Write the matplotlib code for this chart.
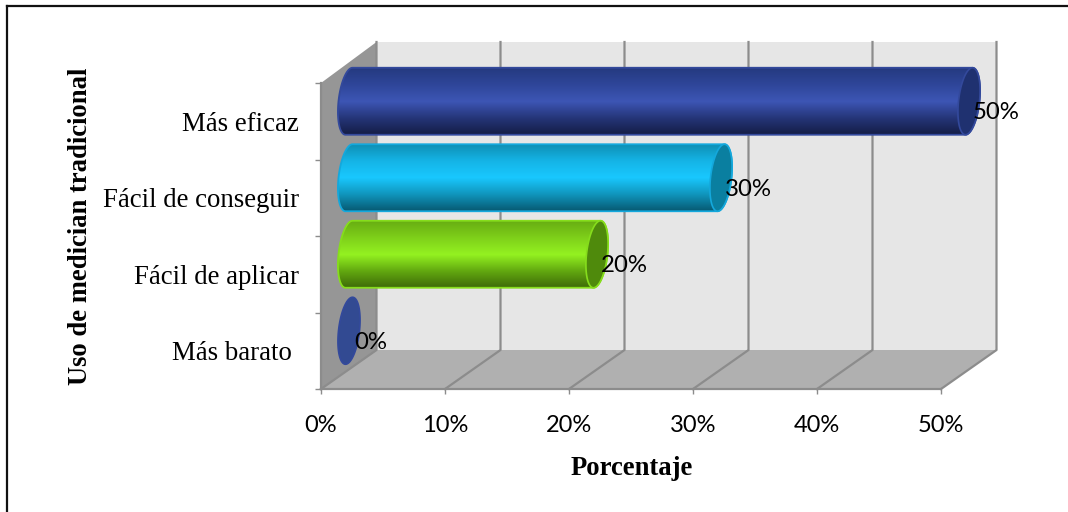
import numpy as np
import matplotlib
matplotlib.use("Agg")
import matplotlib.pyplot as plt
from matplotlib.colors import LinearSegmentedColormap
from matplotlib.patches import Polygon, PathPatch
from matplotlib.path import Path
from matplotlib.lines import Line2D

categories = ["Más barato ", "Fácil de aplicar", "Fácil de conseguir", "Más eficaz"]
values = [0, 20, 30, 50]
x_ticks = [0, 10, 20, 30, 40, 50]
x_tick_labels = ["0%", "10%", "20%", "30%", "40%", "50%"]

W, H = 1068, 512
X0, X1 = 321, 941
Y_BOTTOM, Y_TOP = 389, 83
SANS = "Lato"
SERIF = "Liberation Serif"

fig = plt.figure(figsize=(W / 100, H / 100), dpi=100, facecolor="white")
ax = fig.add_axes([X0 / W, 1 - Y_BOTTOM / H, (X1 - X0) / W, (Y_BOTTOM - Y_TOP) / H])
ax.set_xlim(0, 50)
ax.set_ylim(0, 4)
ax.set_facecolor("none")

PX = 50 / (X1 - X0)
PY = 4 / (Y_BOTTOM - Y_TOP)
DX, DY = 55.5 * PX, 39 * PY
WALL_TOP = 4 + DY + 2 * PY

# Side wall, floor and back wall of the box
GRID = "#8c8c8c"
ax.add_patch(Polygon([(DX, DY), (50 + DX, DY), (50 + DX, WALL_TOP), (DX, WALL_TOP)],
                     fc="#e6e6e6", ec="none", clip_on=False, zorder=1))
ax.add_patch(Polygon([(0, 0), (DX, DY), (DX, WALL_TOP), (0, 4)],
                     fc="#969696", ec="none", clip_on=False, zorder=1))
ax.add_patch(Polygon([(0, 0), (50, 0), (50 + DX, DY), (DX, DY)],
                     fc="#b0b0b0", ec="none", clip_on=False, zorder=1))
for t in x_ticks:
    ax.add_line(Line2D([t, t + DX, t + DX], [0, DY, WALL_TOP], color=GRID, lw=1.6,
                       clip_on=False, zorder=2))


def cylinder_cap(cx, cy, half_w, half_h, shear):
    t = np.linspace(0, 2 * np.pi, 120)
    return np.column_stack([cx + half_w * np.cos(t) + shear * np.sin(t),
                            cy + half_h * np.sin(t)])


def cylinder_body(x_left, x_right, cy, half_w, half_h, shear):
    t = np.linspace(np.pi / 2, 3 * np.pi / 2, 60)
    left = np.column_stack([x_left + half_w * np.cos(t) + shear * np.sin(t),
                            cy + half_h * np.sin(t)])
    t = np.linspace(-np.pi / 2, np.pi / 2, 60)
    right = np.column_stack([x_right + half_w * np.cos(t) + shear * np.sin(t),
                             cy + half_h * np.sin(t)])
    return np.vstack([left[::-1], right[::-1]])


# Shaded stops run from the underside of the tube up to its top edge
styles = {
    "Más eficaz": dict(edge="#33499c", cap="#1f3170",
                       stops=["#141d45", "#253578", "#3d56b5", "#2f469a", "#253a80"]),
    "Fácil de conseguir": dict(edge="#14a8dc", cap="#0a7fa0",
                               stops=["#075a73", "#1096bd", "#19c8ff", "#15b4e6", "#0e8fb4"]),
    "Fácil de aplicar": dict(edge="#86dd1c", cap="#4f8a0c",
                             stops=["#3e6a08", "#62a810", "#94f221", "#7fd01a", "#68ae12"]),
    "Más barato ": dict(edge="#33499c", cap="#324a92", stops=None),
}

HALF_W = 10.5 * PX
HALF_H = 33.5 * PY
SHEAR = 3.5 * PX
START_X = 28 * PX
label_offsets = {"Más eficaz": 3.5, "Fácil de conseguir": 4, "Fácil de aplicar": 3.5, "Más barato ": 5.5}

for i, (name, value) in enumerate(zip(categories, values)):
    st = styles[name]
    cy = i + 0.5 + 20 * PY
    cx_left = START_X
    cx_right = START_X + value
    if value > 0:
        outline = cylinder_body(cx_left, cx_right, cy, HALF_W, HALF_H, SHEAR)
        cmap = LinearSegmentedColormap.from_list(name, st["stops"])
        img = ax.imshow(np.linspace(0, 1, 128).reshape(-1, 1), cmap=cmap, origin="lower",
                        extent=(cx_left - HALF_W - SHEAR, cx_right + HALF_W + SHEAR,
                                cy - HALF_H, cy + HALF_H),
                        aspect="auto", zorder=3 + i * 0.01)
        clip = PathPatch(Path(np.vstack([outline, outline[:1]])), transform=ax.transData,
                         fc="none", ec="none", clip_on=False)
        ax.add_patch(clip)
        img.set_clip_path(clip)
        # the tube reaches past the axes box, so the image may not be cut at its edge
        img.set_clip_box(fig.bbox)
        ax.add_patch(Polygon(outline, closed=True, fc="none", ec=st["edge"], lw=1.3,
                             clip_on=False, zorder=3.2 + i * 0.01))
    ax.add_patch(Polygon(cylinder_cap(cx_right, cy, HALF_W, HALF_H, SHEAR), closed=True,
                         fc=st["cap"], ec=st["edge"], lw=1.2, clip_on=False,
                         zorder=3.3 + i * 0.01))
    ax.annotate(f"{value}%", xy=(cx_right, cy), xytext=(label_offsets[name], -11.5),
                textcoords="offset pixels", family=SANS, fontsize=17.3, color="black",
                ha="left", va="center", zorder=5, annotation_clip=False)

ax.set_xlim(0, 50)
ax.set_ylim(0, 4)

# Axis lines, ticks and labels
for side in ("top", "right"):
    ax.spines[side].set_visible(False)
for side in ("left", "bottom"):
    ax.spines[side].set_color(GRID)
    ax.spines[side].set_linewidth(1.6)
    ax.spines[side].set_zorder(2)

ax.set_xticks(x_ticks, x_tick_labels, family=SANS, fontsize=17, color="black")
ax.set_yticks(range(5), [])
ax.set_yticks(np.arange(4) + 0.5, minor=True)
ax.set_yticklabels(categories, minor=True, family=SERIF, fontsize=19.3, color="black")
for label in ax.get_yticklabels(minor=True):
    label.set_y(label.get_position()[1])
ax.tick_params(axis="x", which="major", direction="out", length=3.5, width=1, color=GRID, pad=15)
ax.tick_params(axis="y", which="major", direction="out", length=4, width=1, color=GRID)
ax.tick_params(axis="y", which="minor", length=0, pad=16)

ax.set_xlabel("Porcentaje", family=SERIF, fontsize=19.2, fontweight="bold", labelpad=0)
ax.xaxis.set_label_coords((632 - X0) / (X1 - X0), -(475 - Y_BOTTOM) / (Y_BOTTOM - Y_TOP))
ax.xaxis.label.set_va("baseline")
fig.text(80.5 / W, 1 - 226 / H, "Uso de medician tradicional", family=SERIF, fontsize=19.2,
         fontweight="bold", rotation=90, ha="center", va="center")

# Outer border of the chart
fig.add_artist(Line2D([6.5 / W, 6.5 / W], [0, 1 - 6 / H], color="#111111", lw=1.6))
fig.add_artist(Line2D([6.5 / W, 1], [1 - 6 / H, 1 - 6 / H], color="#111111", lw=1.6))

fig.savefig("out.png", dpi=100)
